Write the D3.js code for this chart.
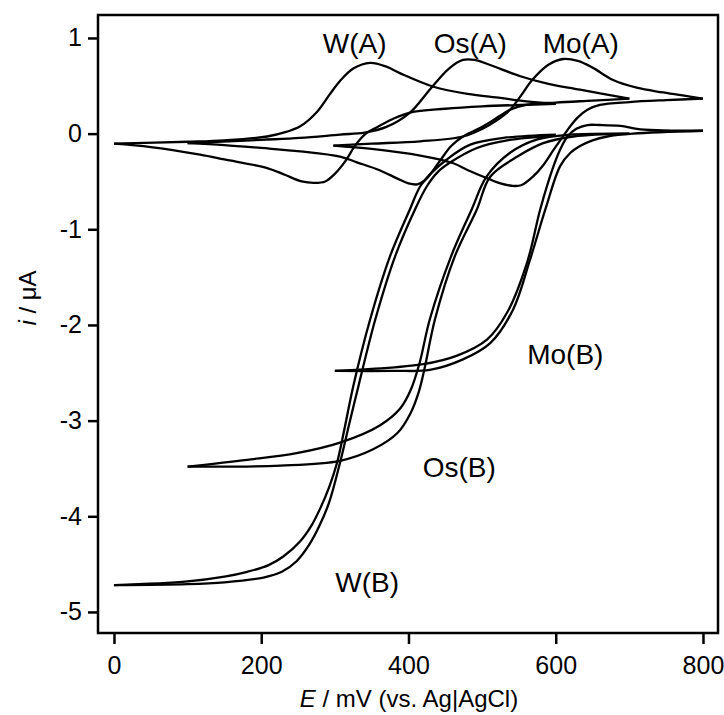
<!DOCTYPE html>
<html>
<head>
<meta charset="utf-8">
<style>
  body { margin: 0; background: #fff; }
  text { font-family: "Liberation Sans", Arial, sans-serif; fill: #000; }
</style>
</head>
<body>
<script src="https://d3js.org/d3.v7.min.js"></script>
<script>

  // E in mV, i in uA
  var wA_fwd = [[0,-0.105],[100,-0.085],[150,-0.07],[208,-0.03],[235,0.02],[253,0.076],[275,0.22],[293,0.41],[307,0.55],[325,0.68],[348,0.74],[370,0.7],[389,0.63],[434,0.49],[480,0.415],[525,0.373],[552,0.345],[600,0.31]];
  var wA_rev = [[600,0.31],[552,0.3],[500,0.285],[450,0.26],[402,0.22],[378,0.15],[358,0.07],[342,0.0],[328,-0.12],[314,-0.29],[300,-0.42],[287,-0.5],[272,-0.515],[255,-0.5],[232,-0.43],[208,-0.36],[150,-0.27],[117,-0.22],[50,-0.14],[0,-0.105]];

  var osA_fwd = [[100,-0.1],[200,-0.065],[253,-0.045],[307,-0.01],[340,0.01],[370,0.07],[402,0.22],[430,0.47],[455,0.68],[474,0.77],[490,0.77],[510,0.72],[552,0.6],[590,0.52],[633,0.46],[700,0.365]];
  var osA_rev = [[700,0.365],[650,0.345],[600,0.325],[560,0.3],[538,0.25],[515,0.14],[495,0.05],[474,-0.03],[458,-0.13],[445,-0.26],[432,-0.4],[422,-0.49],[412,-0.53],[400,-0.52],[385,-0.47],[360,-0.38],[330,-0.3],[307,-0.24],[253,-0.185],[200,-0.15],[150,-0.12],[100,-0.1]];

  var moA_fwd = [[298,-0.125],[350,-0.105],[416,-0.08],[474,-0.03],[500,0.05],[520,0.14],[538,0.25],[553,0.4],[568,0.56],[590,0.72],[610,0.78],[630,0.76],[650,0.69],[678,0.56],[710,0.48],[746,0.43],[800,0.365]];
  var moA_rev = [[800,0.365],[750,0.35],[700,0.33],[660,0.3],[643,0.25],[630,0.17],[620,0.08],[608,-0.05],[597,-0.17],[583,-0.33],[569,-0.45],[553,-0.54],[540,-0.545],[525,-0.52],[508,-0.47],[480,-0.38],[461,-0.31],[416,-0.23],[350,-0.16],[298,-0.125]];

  var wB_L = [[600,-0.01],[529,-0.045],[484,-0.115],[452,-0.27],[430,-0.42],[416,-0.55],[402,-0.79],[375,-1.28],[348,-1.94],[325,-2.64],[314,-3.05],[303,-3.44],[292,-3.7],[280,-3.92],[268,-4.1],[253,-4.26],[230,-4.42],[210,-4.51],[181,-4.58],[150,-4.63],[100,-4.68],[0,-4.72]];
  var wB_R = [[0,-4.72],[100,-4.71],[150,-4.69],[203,-4.64],[228,-4.58],[248,-4.47],[265,-4.3],[279,-4.1],[292,-3.86],[307,-3.44],[320,-3.02],[332,-2.64],[355,-1.94],[382,-1.28],[409,-0.79],[425,-0.55],[440,-0.4],[457,-0.3],[493,-0.15],[534,-0.07],[600,-0.02]];

  var osB_L = [[700,0.0],[620,-0.01],[575,-0.06],[538,-0.2],[506,-0.45],[486,-0.79],[458,-1.28],[429,-1.94],[415,-2.4],[403,-2.68],[389,-2.87],[361,-3.05],[307,-3.23],[248,-3.34],[181,-3.41],[100,-3.48]];
  var osB_R = [[100,-3.48],[226,-3.47],[307,-3.42],[352,-3.3],[385,-3.13],[403,-2.92],[414,-2.7],[422,-2.45],[436,-1.94],[463,-1.28],[493,-0.79],[511,-0.45],[548,-0.24],[583,-0.1],[624,-0.03],[700,0.0]];

  var moB_L = [[800,0.03],[715,0.045],[688,0.08],[660,0.09],[643,0.09],[628,0.05],[616,-0.03],[607,-0.15],[597,-0.34],[579,-0.79],[561,-1.35],[534,-1.87],[507,-2.15],[466,-2.32],[420,-2.41],[350,-2.46],[300,-2.48]];
  var moB_R = [[300,-2.48],[380,-2.48],[429,-2.47],[474,-2.36],[511,-2.19],[542,-1.84],[565,-1.32],[586,-0.79],[606,-0.34],[620,-0.2],[633,-0.13],[650,-0.07],[670,-0.03],[705,0.0],[800,0.03]];

  var curves = [wA_fwd, wA_rev, osA_fwd, osA_rev, moA_fwd, moA_rev,
                wB_L, wB_R, osB_L, osB_R, moB_L, moB_R];

  var labelText = ['W(A)', 'Os(A)', 'Mo(A)', 'Mo(B)', 'Os(B)', 'W(B)'];
  var labelE = [327, 484, 634, 613, 469, 344];
  var labelI = [0.84, 0.84, 0.84, -2.41, -3.59, -4.79];

  var xTicks = [0, 200, 400, 600, 800];
  var yTicks = [-5, -4, -3, -2, -1, 0, 1];

  var svgArea = { width: 724, height: 715 };
  var box = { left: 98, top: 15, right: 718, bottom: 633 };

  const svg = d3.select('body').append('svg')
    .attr('width', svgArea.width)
    .attr('height', svgArea.height);

  var xScale = d3.scaleLinear()
    .domain([-21.7, 820.4])
    .range([box.left, box.right]);

  var yScale = d3.scaleLinear()
    .domain([-5.22, 1.24])
    .range([box.bottom, box.top]);

  var line = d3.line()
    .x(d => xScale(d[0]))
    .y(d => yScale(d[1]))
    .curve(d3.curveCatmullRom.alpha(0.5));

  svg.append('g')
    .selectAll('path')
    .data(curves)
    .join('path')
      .attr('d', d => line(d))
      .attr('fill', 'none')
      .attr('stroke', '#000')
      .attr('stroke-width', 2.3)
      .attr('stroke-linejoin', 'round');

  // frame
  svg.append('rect')
    .attr('x', box.left)
    .attr('y', box.top)
    .attr('width', box.right - box.left)
    .attr('height', box.bottom - box.top)
    .attr('fill', 'none')
    .attr('stroke', '#000')
    .attr('stroke-width', 2.5);

  var xAxis = svg.append('g')
    .attr('transform', `translate(0, ${box.bottom})`)
    .call(d3.axisBottom(xScale).tickValues(xTicks).tickFormat(d => String(d)).tickSize(11).tickPadding(12));

  var yAxis = svg.append('g')
    .attr('transform', `translate(${box.left}, 0)`)
    .call(d3.axisLeft(yScale).tickValues(yTicks).tickFormat(d => String(d)).tickSize(10).tickPadding(6));

  [xAxis, yAxis].forEach(g => {
    g.select('.domain').remove();
    g.selectAll('line').attr('stroke', '#000').attr('stroke-width', 2.5);
    g.selectAll('text')
      .attr('font-size', 25)
      .attr('font-family', '"Liberation Sans", Arial, sans-serif')
      .attr('fill', '#000');
  });

  svg.append('g')
    .selectAll('text')
    .data(labelText)
    .join('text')
      .attr('x', (d, k) => xScale(labelE[k]))
      .attr('y', (d, k) => yScale(labelI[k]))
      .attr('text-anchor', 'middle')
      .attr('font-size', 28)
      .text(d => d);

  var xTitle = svg.append('text')
    .attr('x', 409)
    .attr('y', 707)
    .attr('text-anchor', 'middle')
    .attr('font-size', 24);
  xTitle.append('tspan').attr('font-style', 'italic').text('E');
  xTitle.append('tspan').text(' / mV (vs. Ag|AgCl)');

  var yTitle = svg.append('text')
    .attr('transform', 'translate(36, 298) rotate(-90)')
    .attr('text-anchor', 'middle')
    .attr('font-size', 24);
  yTitle.append('tspan').attr('font-style', 'italic').text('i');
  yTitle.append('tspan').text(' / \u03bcA');

</script>
</body>
</html>
